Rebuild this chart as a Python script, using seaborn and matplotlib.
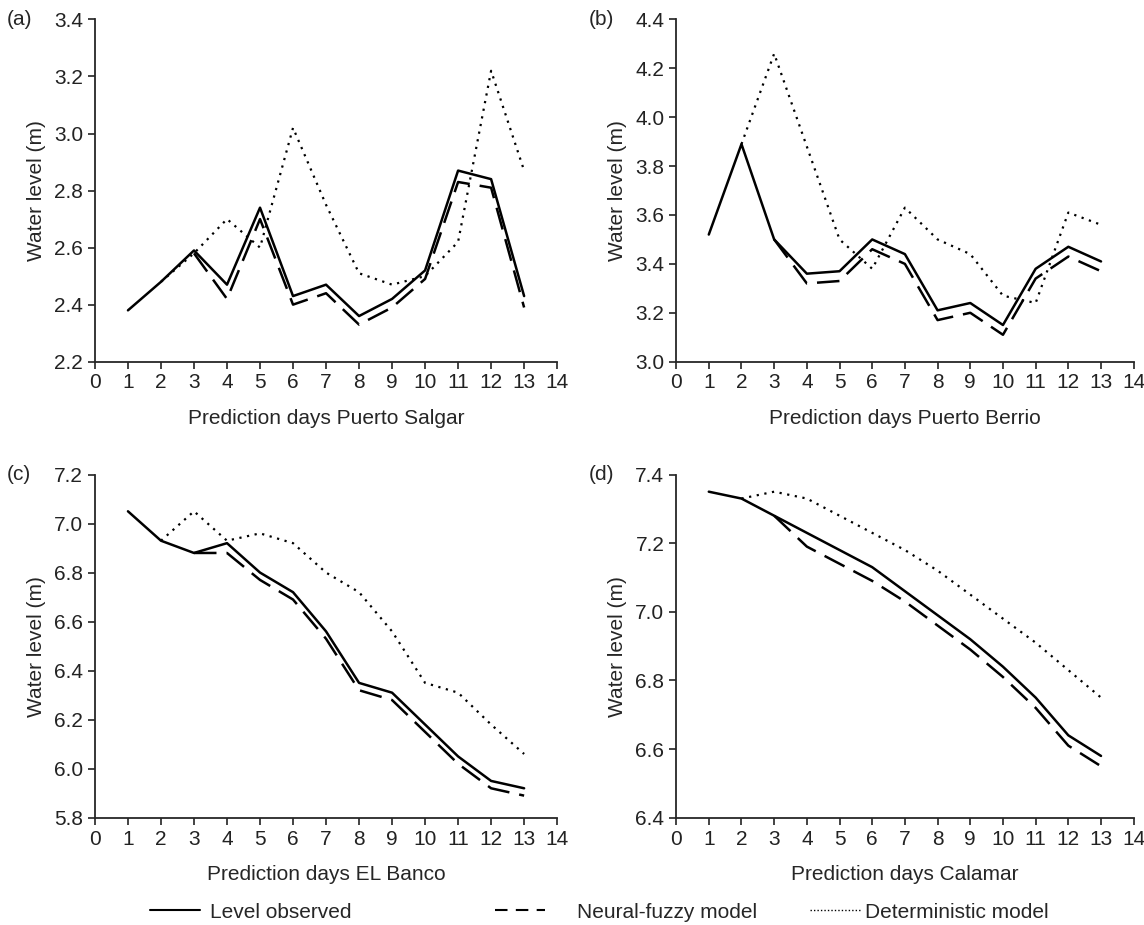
import numpy as np
import pandas as pd
import seaborn as sns
import matplotlib.pyplot as plt
from matplotlib.lines import Line2D

# -----------------------------
# Datos
# -----------------------------
dias = list(range(1, 14))
dias_nf = list(range(3, 14))
dias_det = list(range(2, 14))

estaciones = ["Puerto Salgar", "Puerto Berrio", "EL Banco", "Calamar"]
letras = ["(a)", "(b)", "(c)", "(d)"]

obs_salgar = [2.38, 2.48, 2.59, 2.47, 2.74, 2.43, 2.47, 2.36, 2.42, 2.52, 2.87, 2.84, 2.43]
nf_salgar = [2.58, 2.42, 2.70, 2.40, 2.44, 2.33, 2.39, 2.49, 2.83, 2.81, 2.39]
det_salgar = [2.48, 2.58, 2.70, 2.60, 3.02, 2.75, 2.51, 2.47, 2.50, 2.62, 3.22, 2.87]

obs_berrio = [3.52, 3.89, 3.50, 3.36, 3.37, 3.50, 3.44, 3.21, 3.24, 3.15, 3.38, 3.47, 3.41]
nf_berrio = [3.50, 3.32, 3.33, 3.46, 3.40, 3.17, 3.20, 3.11, 3.34, 3.43, 3.37]
det_berrio = [3.89, 4.26, 3.88, 3.50, 3.38, 3.63, 3.50, 3.44, 3.27, 3.24, 3.61, 3.56]

obs_banco = [7.05, 6.93, 6.88, 6.92, 6.80, 6.72, 6.56, 6.35, 6.31, 6.18, 6.05, 5.95, 5.92]
nf_banco = [6.88, 6.88, 6.77, 6.69, 6.53, 6.32, 6.28, 6.15, 6.02, 5.92, 5.89]
det_banco = [6.93, 7.05, 6.93, 6.96, 6.92, 6.80, 6.72, 6.56, 6.35, 6.31, 6.18, 6.06]

obs_calamar = [7.35, 7.33, 7.28, 7.23, 7.18, 7.13, 7.06, 6.99, 6.92, 6.84, 6.75, 6.64, 6.58]
nf_calamar = [7.28, 7.19, 7.14, 7.09, 7.03, 6.96, 6.89, 6.81, 6.72, 6.61, 6.55]
det_calamar = [7.33, 7.35, 7.33, 7.28, 7.23, 7.18, 7.12, 7.05, 6.98, 6.91, 6.83, 6.75]

observado = [obs_salgar, obs_berrio, obs_banco, obs_calamar]
neuro = [nf_salgar, nf_berrio, nf_banco, nf_calamar]
determ = [det_salgar, det_berrio, det_banco, det_calamar]

rangos_y = [(2.2, 3.4), (3.0, 4.4), (5.8, 7.2), (6.4, 7.4)]
ticks_y = [np.arange(2.2, 3.41, 0.2), np.arange(3.0, 4.41, 0.2),
           np.arange(5.8, 7.21, 0.2), np.arange(6.4, 7.41, 0.2)]

etiquetas_leyenda = ["Level observed", "Neural-fuzzy model", "Deterministic model"]

# -----------------------------
# Estilo
# -----------------------------
sns.set_style("ticks")
plt.rcParams['font.family'] = ['Liberation Sans', 'DejaVu Sans']
plt.rcParams['font.size'] = 15

fig = plt.figure(figsize=(11.44, 9.25), dpi=100)
posiciones = [
    [0.083, 0.609, 0.404, 0.370],
    [0.591, 0.609, 0.400, 0.370],
    [0.083, 0.116, 0.404, 0.371],
    [0.591, 0.116, 0.400, 0.371],
]

estilo_dash = (0, (9, 4))
estilo_dot = (0, (1, 2.5))

for i in range(4):
    ax = fig.add_axes(posiciones[i])
    sns.lineplot(x=dias, y=observado[i], ax=ax, color="black", lw=1.8)
    sns.lineplot(x=dias_nf, y=neuro[i], ax=ax, color="black", lw=1.8,
                 linestyle=estilo_dash)
    sns.lineplot(x=dias_det, y=determ[i], ax=ax, color="black", lw=1.6,
                 linestyle=estilo_dot)
    ax.set_xlim(0, 14)
    ax.set_ylim(*rangos_y[i])
    ax.set_xticks(range(0, 15))
    ax.set_yticks(ticks_y[i])
    ax.set_yticklabels([f"{v:.1f}" for v in ticks_y[i]])
    ax.tick_params(labelsize=15, length=5, width=1.2, colors="#222222")
    for lado in ["left", "bottom"]:
        ax.spines[lado].set_linewidth(1.3)
    sns.despine(ax=ax)
    ax.set_xlabel("Prediction days " + estaciones[i], fontsize=15, labelpad=12)
    ax.set_ylabel("Water level (m)", fontsize=15, labelpad=6)
    ax.text(-0.19, 1.0, letras[i], transform=ax.transAxes, fontsize=15,
            ha="left", va="center")

# Leyenda común (tres entradas separadas)
manijas = [
    Line2D([], [], color="black", lw=1.5),
    Line2D([], [], color="black", lw=1.5, linestyle=(0, (6, 4))),
    Line2D([], [], color="black", lw=1.0, linestyle=(0, (1, 1.5))),
]
x_leyenda = [0.131, 0.433, 0.708]
separacion = [0.5, 1.5, 0.25]
for m, txt, xl, sep in zip(manijas, etiquetas_leyenda, x_leyenda, separacion):
    fig.legend([m], [txt], loc="center left", bbox_to_anchor=(xl, 0.014),
               frameon=False, fontsize=15, handlelength=2.4, handletextpad=sep,
               borderpad=0, borderaxespad=0)

plt.savefig("out.png", dpi=100)
